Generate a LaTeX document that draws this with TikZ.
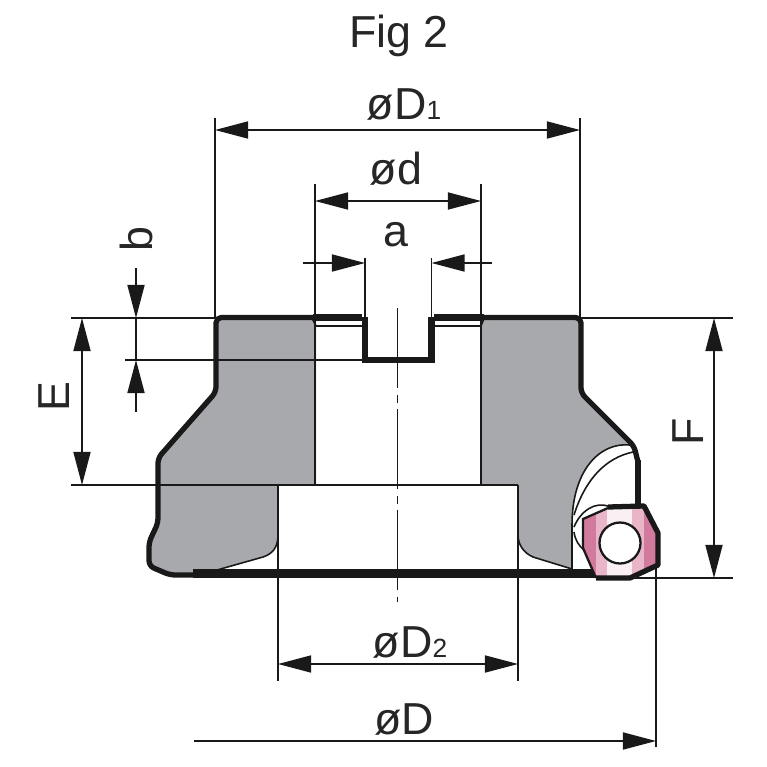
\documentclass[tikz,border=0pt]{standalone}
\usepackage{fontspec}
\setmainfont{Liberation Sans}
\usetikzlibrary{arrows.meta}
\definecolor{bodygray}{HTML}{A8A9AD}
\definecolor{insertdark}{HTML}{D27A9E}
\definecolor{insertmid}{HTML}{E8B5C9}
\definecolor{insertpale}{HTML}{FAF0F4}
\newcommand{\subidx}[1]{\raisebox{-0.5pt}{\fontsize{15}{15}\selectfont #1}}
\tikzset{
    >={Triangle[length=18.8pt,width=9.7pt]},
    dimline/.style={black!90, line width=0.85pt},
    edgeline/.style={black!90, line width=0.9pt},
    outline/.style={black!90, line width=3pt, line join=round},
    dimlabel/.style={font=\fontsize{25.5}{25.5}\selectfont, text=black!85, inner sep=0pt},
}
\begin{document}
\begin{tikzpicture}[x=0.02cm, y=-0.02cm]
        \useasboundingbox (0,0) rectangle (767,767);

        % Corpo in sezione
        \fill[bodygray] (216,318) -- (316,318) -- (316,485) -- (278,485) -- (278,535)
            .. controls (278,548) and (272,554) .. (263,557) -- (217,570) -- (193,575) -- (170,575)
            -- (149,566) -- (149,542) -- (158,523) -- (158,458) -- (216,392) -- cycle;
        \fill[bodygray] (481,318) -- (581,318) -- (581,393) -- (630,445)
            .. controls (600,442) and (572,470) .. (572,525) -- (572,569) -- (533,557)
            .. controls (524,553) and (518,545) .. (518,535) -- (518,485) -- (481,485) -- cycle;

        % Bordi sottili
        \draw[edgeline] (278,535) .. controls (278,548) and (272,554) .. (263,557) -- (217,570);
        \draw[edgeline] (518,535) .. controls (518,545) and (524,553) .. (533,557) -- (572,569);
        \draw[edgeline] (572,569) -- (572,525) .. controls (572,470) and (600,442) .. (630,445);
        \draw[edgeline] (574,515) .. controls (585,480) and (605,458) .. (633,452);
        \draw[edgeline] (574,527) .. controls (580,512) and (595,500) .. (610,507);
        \draw[edgeline] (574,532) .. controls (575,540) and (579,546) .. (584,550);
        \draw[edgeline] (311,316) -- (316,326);
        \draw[edgeline] (485,316) -- (481,326);

        % Profilo esterno
        \draw[outline, rounded corners=3pt] (316,317.5) -- (216,317.5) -- (216,392) -- (158,458) -- (158,523)
            -- (149,542) -- (149,566) -- (170,575) -- (193,575);
        \draw[outline, rounded corners=3pt] (481,317.5) -- (581,317.5) -- (581,393) -- (634,446) -- (638,462);
        \draw[black!90, line width=3.6pt] (638,460) -- (638,506);
        \draw[black!90, line width=5pt] (193,573.5) -- (598,573.5);

        % Cava
        \draw[black!90, line width=3.6pt] (313,317.5) -- (362,317.5);
        \draw[black!90, line width=3.6pt] (434,317.5) -- (484,317.5);
        \draw[black!90, line width=1.6pt] (316,326) -- (362,326);
        \draw[black!90, line width=1.6pt] (434,326) -- (481,326);
        \draw[black!90, line width=3.8pt, line join=miter] (365,317) -- (365,360) -- (431.5,360) -- (431.5,317);

        % Inserto
        \begin{scope}
            \clip (583,519) -- (608,508) -- (644,506) -- (658,533) -- (658,565) -- (630,578) -- (596,578) -- (583,548) -- cycle;
            \fill[insertdark] (580,500) rectangle (660,580);
            \fill[insertmid] (596,500) rectangle (644,580);
            \fill[insertpale] (607,500) rectangle (632,580);
        \end{scope}
        \draw[black!90, line width=1.3pt] (596,578) -- (583,548) -- (583,519) -- (608,508);
        \draw[outline] (608,507) -- (644,506) -- (658,533) -- (658,565) -- (630,578) -- (596,578);
        \fill[white] (620,543) circle (20.5);
        \draw[black!90, line width=1.3pt] (620,543) circle (20.5);

        % Asse
        \draw[dimline, dash pattern=on 45.5pt off 4pt on 4.5pt off 3.4pt] (397.5,308) -- (397.5,602);

        % Linee di riferimento
        \draw[dimline] (215,118) -- (215,318);
        \draw[dimline] (580,118) -- (580,318);
        \draw[dimline] (315,184) -- (315,485);
        \draw[dimline] (481,184) -- (481,485);
        \draw[dimline] (365,258) -- (365,320);
        \draw[dimline] (431.5,258) -- (431.5,320);
        \draw[dimline] (71,318) -- (218,318);
        \draw[dimline] (125,360) -- (363,360);
        \draw[dimline] (71,485) -- (316,485);
        \draw[black!90, line width=1.6pt] (311,485) -- (481,485);
        \draw[dimline] (481,485) -- (518,485);
        \draw[dimline] (278,485) -- (278,681);
        \draw[dimline] (518,485) -- (518,681);
        \draw[dimline] (580,318) -- (733,318);
        \draw[dimline] (628,578) -- (733,578);
        \draw[dimline] (656,565) -- (656,747);

        % Quote
        \coordinate (dOneL) at (215,130);
        \coordinate (dOneR) at (580,130);
        \draw[dimline, <->] (dOneL) -- (dOneR);
        \coordinate (boreL) at (315,201);
        \coordinate (boreR) at (481,201);
        \draw[dimline, <->] (boreL) -- (boreR);
        \coordinate (slotL) at (365,263);
        \coordinate (slotR) at (431.5,263);
        \coordinate (slotLfree) at (303,263);
        \coordinate (slotRfree) at (492,263);
        \draw[dimline, ->] (slotLfree) -- (slotL);
        \draw[dimline, ->] (slotRfree) -- (slotR);
        \coordinate (depthT) at (136,318);
        \coordinate (depthB) at (136,360);
        \coordinate (depthTfree) at (136,268);
        \coordinate (depthBfree) at (136,412);
        \draw[dimline, ->] (depthTfree) -- (depthT);
        \draw[dimline, ->] (depthBfree) -- (depthB);
        \draw[dimline] (depthT) -- (depthB);
        \coordinate (heightET) at (82,318);
        \coordinate (heightEB) at (82,485);
        \draw[dimline, <->] (heightET) -- (heightEB);
        \coordinate (heightFT) at (714,318);
        \coordinate (heightFB) at (714,578);
        \draw[dimline, <->] (heightFT) -- (heightFB);
        \coordinate (dTwoL) at (278,664);
        \coordinate (dTwoR) at (518,664);
        \draw[dimline, <->] (dTwoL) -- (dTwoR);
        \coordinate (dMainfree) at (194,741);
        \coordinate (dMainR) at (656,741);
        \draw[dimline, ->] (dMainfree) -- (dMainR);

        % Testi
        \node[dimlabel, anchor=base] (title) at (399,48) {Fig 2};
        \node[dimlabel, anchor=base] (labelDone) at (404,119) {øD\subidx{1}};
        \node[dimlabel, anchor=base] (labelBore) at (396,184) {ød};
        \node[dimlabel, anchor=base] (labelSlot) at (396,246) {a};
        \node[dimlabel, anchor=base] (labelDtwo) at (410,657) {øD\subidx{2}};
        \node[dimlabel, anchor=base] (labelD) at (404,734) {øD};
        \node[dimlabel, rotate=90] (labelDepth) at (136,239) {b};
        \node[dimlabel, rotate=90] (labelE) at (54,397) {E};
        \node[dimlabel, rotate=90] (labelF) at (688,432) {F};
    \end{tikzpicture}
\end{document}
